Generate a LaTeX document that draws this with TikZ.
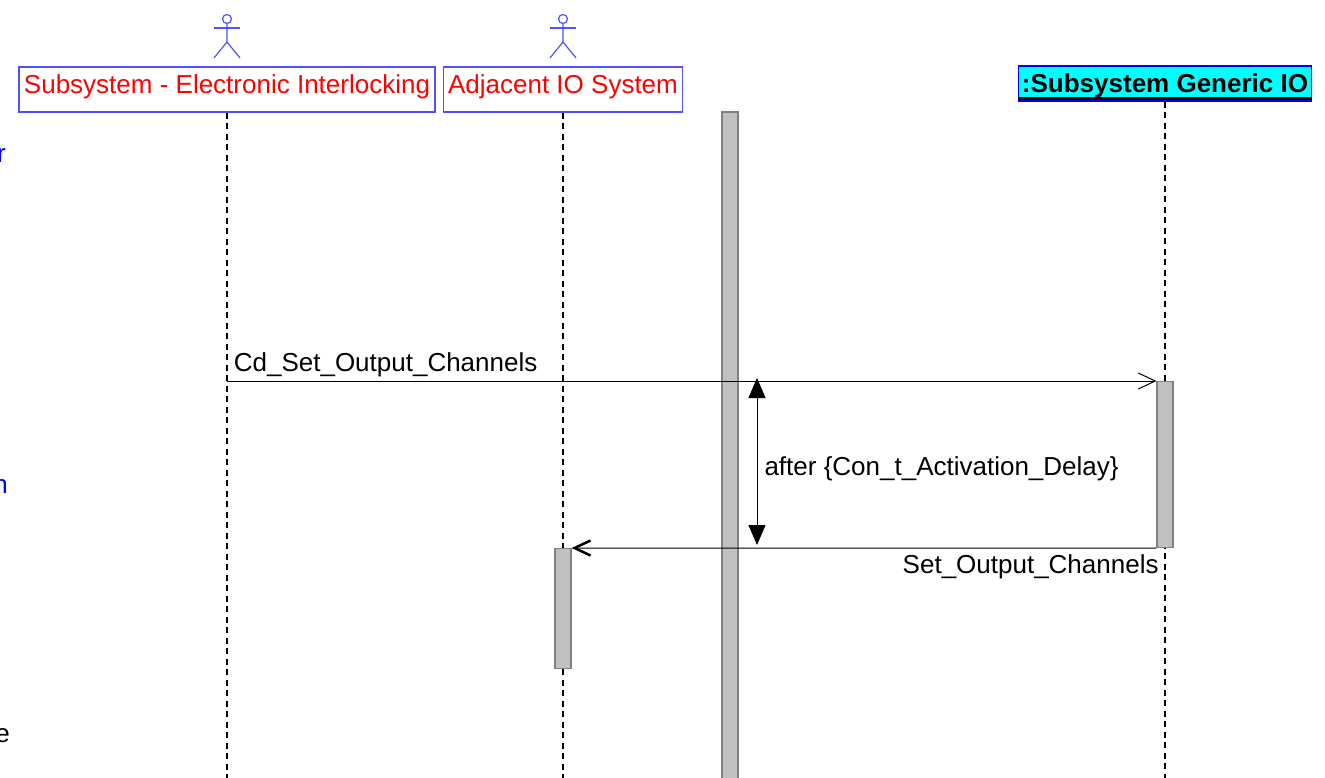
\documentclass[tikz,border=0pt]{standalone}
\usepackage{fontspec}
\setmainfont{Liberation Sans}
\usetikzlibrary{arrows.meta,positioning}
\definecolor{actorblue}{RGB}{80,80,255}
\definecolor{bargray}{RGB}{192,192,192}
\definecolor{headcyan}{RGB}{0,255,255}
\tikzset{
	actorbox/.style={draw=actorblue, line width=1.2pt, text=red, minimum height=45pt, inner xsep=5pt, inner ysep=0pt, text height=19pt, text depth=10pt},
	lifeline/.style={dash pattern=on 6pt off 4.5pt, line width=1.4pt},
	activation/.style={draw=gray, fill=bargray, line width=1.2pt, minimum width=16pt, inner sep=0pt, anchor=north},
	msg/.style={line width=1pt}
}
\newcommand{\actorfig}[1]{%
	\begin{scope}[shift={(#1,0)}, actorblue, line width=1.2pt]
		\draw (0,19) circle (4.5pt);
		\draw (-13,28) -- (13,28);
		\draw (0,23.5) -- (0,42) (-13,58) -- (0,42) -- (13,58);
	\end{scope}}

\begin{document}
\begin{tikzpicture}[x=1pt, y=-1pt, font=\fontsize{26pt}{30pt}\selectfont]
			\useasboundingbox (0,0) rectangle (1325,778);
			% actors
			\actorfig{227}
			\actorfig{563}
			\node[actorbox] (eil) at (227,89.5) {Subsystem - Electronic Interlocking};
			\node[actorbox] (aio) at (563,89.5) {Adjacent IO System};
			\node[draw=blue, line width=1.2pt, fill=headcyan, font=\fontsize{26pt}{30pt}\selectfont\bfseries, minimum width=293pt, minimum height=35pt, inner sep=0pt, text height=18pt, text depth=0pt] (sgio) at (1165,83.5) {:Subsystem Generic IO};
			\draw[line width=3pt] ([yshift=3pt]sgio.south west) -- ([yshift=3pt]sgio.south east);
			% cut texts at the left edge
			\node[anchor=base east, inner sep=0pt, text=blue] (frag1) at (6,163) {r};
			\node[anchor=base east, inner sep=0pt, text=blue] (frag2) at (8,493) {n};
			\node[anchor=base east, inner sep=0pt] (frag3) at (10,742) {e};
			% lifelines
			\coordinate (eilend) at (227,778);
			\coordinate (aioend) at (563,778);
			\coordinate (sgioend) at (1165,778);
			\draw[lifeline] (eil.south) -- (eilend);
			\draw[lifeline] (aio.south) -- (aioend);
			\draw[lifeline] (sgio.south) -- (sgioend);
			% activations
			\draw[draw=gray, fill=bargray, line width=1.2pt] (722,112) rectangle (738,782);
			\node[activation, minimum height=166pt] (sgiobar) at (1165,381) {};
			\node[activation, minimum height=120pt] (aiobar) at (563,548) {};
			% messages
			\coordinate (m1) at (227,381);
			\draw[msg, -{Straight Barb[length=17pt, width=16pt]}] (m1) -- node[pos=0, anchor=south west, xshift=3pt]{Cd\_Set\_Output\_Channels} (sgiobar.north west);
			\draw[msg, -{Straight Barb[length=16pt, width=15pt, line width=2.5pt]}] (sgiobar.south west) -- node[pos=0, anchor=north east, xshift=6pt, yshift=-3pt]{Set\_Output\_Channels} (aiobar.north east);
			% time constraint
			\coordinate (dtop) at (757,378);
			\coordinate (dbot) at (757,545);
			\draw[msg, {Triangle[length=20pt, width=17pt]}-{Triangle[length=20pt, width=17pt]}] (dtop) -- (dbot);
			\path (dtop) -- node[midway, right, xshift=4pt, yshift=-7pt]{after \{Con\_t\_Activation\_Delay\}} (dbot);
		\end{tikzpicture}
\end{document}
